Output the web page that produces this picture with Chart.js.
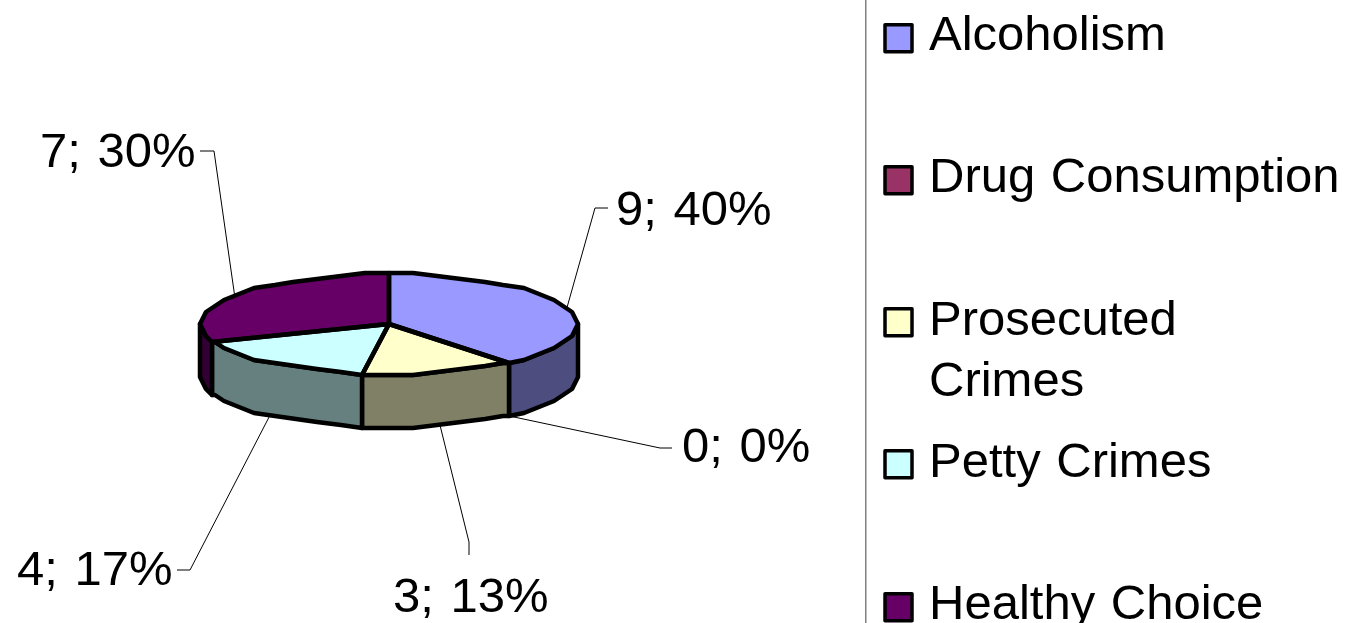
<!DOCTYPE html>
<html>
<head>
<meta charset="utf-8">
<style>
  html, body { margin: 0; padding: 0; background: #fff; overflow: hidden; }
</style>
</head>
<body>
<canvas id="pieChart" width="1346" height="623"></canvas>
<script src="https://cdn.jsdelivr.net/npm/chart.js@4"></script>
<script>
const categories = ['Alcoholism', 'Drug Consumption', 'Prosecuted Crimes', 'Petty Crimes', 'Healthy Choice'];
const values = [9, 0, 3, 4, 7];
const percents = ['40%', '0%', '13%', '17%', '30%'];
const colors = ['#9999FF', '#993366', '#FFFFCC', '#CCFFFF', '#660066'];
const wallColors = ['#4D4D80', '#4D1A33', '#808066', '#668080', '#330033'];

// pie is drawn as a circle and squashed, these set the fake 3D look
const squash = 50 / 189;
const depth = 53;
const edge = 4.5;
const font = '49px "Liberation Sans", Arial, sans-serif';

// rim in the original is a coarse polygon, not a clean ellipse
const rimStep = Math.PI / 24;
const rimGrid = 3;

// label text position (left, baseline), elbow and end of each leader line
const labelLayout = [
    { x: 616, y: 225, ex: 595, ey: 208, sx: 608, sy: 208 },
    { x: 682, y: 462, ex: 660, ey: 448, sx: 672, sy: 448 },
    { x: 393, y: 612, ex: 469, ey: 542, sx: 469, sy: 555 },
    { x: 17, y: 585, ex: 190, ey: 570, sx: 177, sy: 570 },
    { x: 40, y: 167, ex: 214, ey: 151, sx: 200, sy: 151 }
];

// legend rows: text baselines, wrapped entry has two
const legendRows = [[50], [192], [335, 396], [477], [619]];
const legendSwatchY = [23, 165, 307, 449, 592];

function snap(v) {
    return Math.round(v / rimGrid) * rimGrid;
}

// list of rim points between two angles, snapped to the coarse grid
function rimPoints(arc, a, b, dy) {
    const rx = arc.outerRadius;
    const ry = rx * squash;
    const angles = [a];
    const first = Math.ceil(Math.min(a, b) / rimStep + 0.01);
    const last = Math.floor(Math.max(a, b) / rimStep - 0.01);
    const steps = [];
    for (let k = first; k <= last; k++) steps.push(k * rimStep);
    if (a > b) steps.reverse();
    steps.forEach(function(s) { angles.push(s); });
    angles.push(b);
    return angles.map(function(t) {
        return {
            x: arc.x + snap(rx * Math.cos(t)),
            y: arc.y + snap(ry * Math.sin(t)) + dy
        };
    });
}

function addPoints(ctx, points) {
    points.forEach(function(p) { ctx.lineTo(p.x, p.y); });
}

function drawWalls(ctx, arcs) {
    arcs.forEach(function(arc, i) {
        // only the front half of the rim can be seen
        let ranges = [[arc.startAngle, arc.endAngle], [arc.startAngle - 2 * Math.PI, arc.endAngle - 2 * Math.PI]];
        ranges.forEach(function(r) {
            const a = Math.max(r[0], 0);
            const b = Math.min(r[1], Math.PI);
            if (b <= a) return;
            ctx.beginPath();
            addPoints(ctx, rimPoints(arc, a, b, 0));
            addPoints(ctx, rimPoints(arc, b, a, depth));
            ctx.closePath();
            ctx.fillStyle = wallColors[i];
            ctx.fill();
            ctx.lineWidth = edge;
            ctx.lineJoin = 'round';
            ctx.strokeStyle = '#000';
            ctx.stroke();
        });
    });
}

const pie3d = {
    id: 'pie3d',
    beforeDatasetsDraw(chart) {
        const ctx = chart.ctx;
        const arcs = chart.getDatasetMeta(0).data;
        drawWalls(ctx, arcs);
        // library draws the top faces into the squashed space
        ctx.save();
        ctx.translate(arcs[0].x, arcs[0].y);
        ctx.scale(1, squash);
        ctx.translate(-arcs[0].x, -arcs[0].y);
    },
    afterDatasetsDraw(chart) {
        const ctx = chart.ctx;
        ctx.restore();
        const arcs = chart.getDatasetMeta(0).data;
        ctx.save();
        ctx.lineWidth = edge;
        ctx.lineJoin = 'round';
        ctx.strokeStyle = '#000';
        arcs.forEach(function(arc) {
            if (arc.endAngle - arc.startAngle <= 0) return;
            ctx.beginPath();
            ctx.moveTo(arc.x, arc.y);
            addPoints(ctx, rimPoints(arc, arc.startAngle, arc.endAngle, 0));
            ctx.closePath();
            ctx.stroke();
        });
        ctx.restore();
        drawLabels(ctx, arcs);
        drawLegend(ctx);
    }
};

function drawLabels(ctx, arcs) {
    ctx.save();
    ctx.font = font;
    ctx.wordSpacing = '3px';
    ctx.fillStyle = '#000';
    ctx.textBaseline = 'alphabetic';
    arcs.forEach(function(arc, i) {
        const layout = labelLayout[i];
        const mid = (arc.startAngle + arc.endAngle) / 2;
        const rx = arc.outerRadius;
        const ry = rx * squash;
        // leader line goes to the rim at the middle of the slice
        const front = Math.sin(mid) > 0;
        const ax = arc.x + rx * Math.cos(mid);
        const ay = arc.y + ry * Math.sin(mid) + (front ? depth : 0);
        ctx.beginPath();
        ctx.moveTo(ax, ay);
        ctx.lineTo(layout.ex, layout.ey);
        ctx.lineTo(layout.sx, layout.sy);
        ctx.lineWidth = 1;
        ctx.strokeStyle = '#000';
        ctx.stroke();
        ctx.fillText(values[i] + '; ' + percents[i], layout.x, layout.y);
    });
    ctx.restore();
}

function drawLegend(ctx) {
    ctx.save();
    // legend frame line
    ctx.fillStyle = '#808080';
    ctx.fillRect(865, 0, 1.5, 623);
    ctx.font = font;
    ctx.wordSpacing = '2px';
    ctx.textBaseline = 'alphabetic';
    categories.forEach(function(name, i) {
        ctx.beginPath();
        ctx.rect(885, legendSwatchY[i] + 1.75, 27, 27);
        ctx.fillStyle = colors[i];
        ctx.fill();
        ctx.lineWidth = 3.5;
        ctx.lineJoin = 'round';
        ctx.strokeStyle = '#000';
        ctx.stroke();
        ctx.fillStyle = '#000';
        const rows = legendRows[i];
        const words = rows.length > 1 ? name.split(' ') : [name];
        words.forEach(function(word, j) {
            ctx.fillText(word, 929, rows[j]);
        });
    });
    ctx.restore();
}

new Chart(document.getElementById('pieChart'), {
    type: 'pie',
    data: {
        labels: categories,
        datasets: [{
            data: values,
            backgroundColor: colors,
            borderWidth: 0,
            clip: false
        }]
    },
    options: {
        responsive: false,
        animation: false,
        layout: {
            padding: { left: 200, right: 768, top: 135, bottom: 110 }
        },
        plugins: {
            legend: { display: false },
            tooltip: { enabled: false }
        }
    },
    plugins: [pie3d]
});
</script>
</body>
</html>
